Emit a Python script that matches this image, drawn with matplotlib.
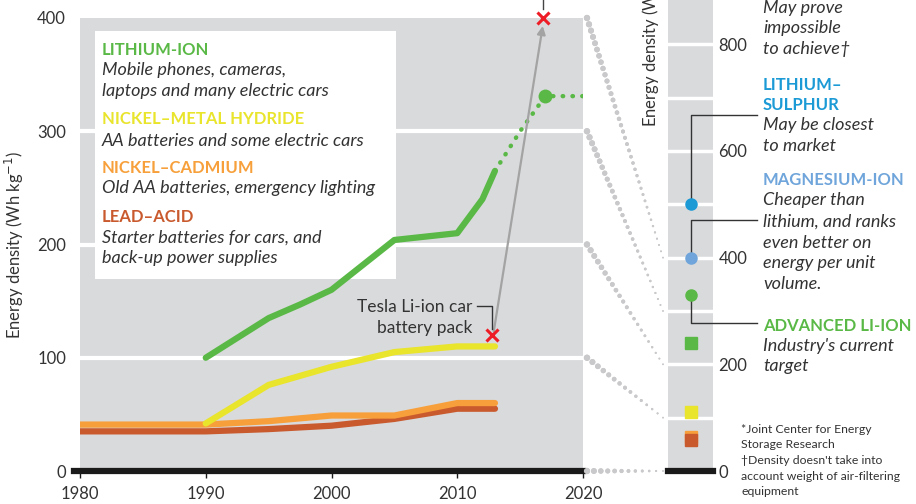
import matplotlib.pyplot as plt
import numpy as np
from matplotlib.patches import Rectangle

plt.rcParams['font.family'] = ['Lato', 'DejaVu Sans']

# ---- data ----
li_years = [1990, 1995, 1997.5, 2000, 2005, 2010, 2012, 2013]
li_vals = [100, 135, 147, 160, 204, 210, 240, 265]
li_proj_years = [2013, 2015, 2017, 2020]
li_proj_vals = [265, 300, 331, 331]

nimh_years = [1990, 1995, 2000, 2005, 2010, 2013]
nimh_vals = [42, 76, 92, 105, 110, 110]

nicd_years = [1980, 1990, 1995, 2000, 2005, 2010, 2013]
nicd_vals = [41, 41, 44, 49, 49, 60, 60]

lead_years = [1980, 1990, 1995, 2000, 2005, 2010, 2013]
lead_vals = [35, 35, 37, 40, 46, 55, 55]

tesla_year, tesla_val = 2012.8, 120
air_year, air_val = 2016.8, 400

# right panel: future chemistries (circles) and current values (squares)
future_vals = [500, 400, 330]          # Li-S, Mg-ion, advanced Li-ion
current_vals = [240, 110, 63, 58]      # Li-ion, NiMH, NiCd, lead-acid

connector_vals = [0, 100, 200, 300, 400]

GREEN = '#5ab946'
YELLOW = '#e9e42c'
ORANGE = '#f7a03b'
LEAD = '#c95a2e'
BLUE = '#1b9ad6'
LBLUE = '#6fa5da'
RED = '#ee1c25'
BG = '#d9dadc'
TXT = '#333333'

W, H = 916, 504
fig = plt.figure(figsize=(W / 100, H / 100), dpi=100)


def fx(x):
    return x / W


def fy(y):
    return 1 - y / H


# ---- left chart ----
ax = fig.add_axes([fx(80), fy(471), 503 / W, 453 / H])
ax.set_facecolor(BG)
ax.set_xlim(1980, 2020)
ax.set_ylim(0, 400)
for s in ax.spines.values():
    s.set_visible(False)
for v in [100, 200, 300]:
    ax.axhline(v, color='white', lw=3, zorder=1)

# white legend box
ax.add_patch(Rectangle((0.030, 0.424), 0.598, 0.547, transform=ax.transAxes,
                       facecolor='white', edgecolor='none', zorder=2))

ax.plot(lead_years, lead_vals, color=LEAD, lw=4.5, solid_capstyle='round', zorder=3)
ax.plot(nicd_years, nicd_vals, color=ORANGE, lw=4.5, solid_capstyle='round', zorder=3)
ax.plot(nimh_years, nimh_vals, color=YELLOW, lw=4.5, solid_capstyle='round', zorder=3)
ax.plot(li_years, li_vals, color=GREEN, lw=4.5, solid_capstyle='round', zorder=3)
ax.plot(li_proj_years, li_proj_vals, color=GREEN, lw=3.2, ls=(0, (0.1, 2.1)),
        dash_capstyle='round', zorder=3)
ax.plot(li_proj_years[2], li_proj_vals[2], 'o', color=GREEN, ms=9, zorder=4)

ax.axhline(0, xmin=-0.012, xmax=1, color='#1a1a1a', lw=4.5, clip_on=False, zorder=5)

ax.set_xticks([1980, 1990, 2000, 2010, 2020])
ax.set_yticks([0, 100, 200, 300, 400])
ax.tick_params(axis='x', length=5, width=1, color='#1a1a1a', pad=6,
               labelsize=12, labelcolor=TXT)
ax.tick_params(axis='y', length=0, pad=10, labelsize=12, labelcolor=TXT)
ax.set_ylabel('Energy density (Wh kg$^{-1}$)', fontsize=12, color=TXT, labelpad=8)

# Tesla annotation
ax.annotate('', xy=(air_year, air_val - 7), xytext=(tesla_year + 0.1, tesla_val + 3),
            arrowprops=dict(arrowstyle='-|>', color='#a3a3a3', lw=1.6,
                            mutation_scale=12, shrinkA=0, shrinkB=0), zorder=4)
ax.plot(tesla_year, tesla_val, 'x', color=RED, ms=8, mew=2.2, zorder=6)
ax.plot(air_year, air_val, 'x', color=RED, ms=8, mew=2.2, zorder=6, clip_on=False)
ax.plot([air_year, air_year], [408, 420], color='#444444', lw=1, clip_on=False)
ax.plot([tesla_year - 1.2, tesla_year, tesla_year], [146, 146, 125],
        color='#333333', lw=1, zorder=5)
ax.text(tesla_year - 1.6, 145, 'Tesla Li-ion car', ha='right', va='center',
        fontsize=12.5, color=TXT, zorder=5)
ax.text(tesla_year - 1.6, 126, 'battery pack', ha='right', va='center',
        fontsize=12.5, color=TXT, zorder=5)


def put(x, y, s, color, kind):
    if kind == 'bold':
        fig.text(fx(x), fy(y), s, color=color, fontsize=12, fontweight='bold',
                 va='baseline', ha='left', zorder=10)
    else:
        fig.text(fx(x), fy(y), s, color=color or TXT, fontsize=13, style='italic',
                 va='baseline', ha='left', zorder=10)


legend_lines = [
    ('LITHIUM-ION', 55, GREEN, 'bold'),
    ('Mobile phones, cameras,', 75, None, 'it'),
    ('laptops and many electric cars', 96, None, 'it'),
    ('NICKEL–METAL HYDRIDE', 124, YELLOW, 'bold'),
    ('AA batteries and some electric cars', 146, None, 'it'),
    ('NICKEL–CADMIUM', 173, ORANGE, 'bold'),
    ('Old AA batteries, emergency lighting', 193, None, 'it'),
    ('LEAD–ACID', 222, LEAD, 'bold'),
    ('Starter batteries for cars, and', 243, None, 'it'),
    ('back-up power supplies', 263, None, 'it'),
]
for s, y, c, k in legend_lines:
    put(102, y, s, c, k)

# ---- right panel ----
ax2 = fig.add_axes([fx(668), fy(471), 45 / W, 471 / H])
ax2.set_facecolor(BG)
ax2.set_xlim(0, 1)
ax2.set_ylim(0, 471 / 0.5335)
for s in ax2.spines.values():
    s.set_visible(False)
for v in range(100, 900, 100):
    ax2.axhline(v, color='white', lw=2.5, zorder=1)
ax2.axhline(0, color='#1a1a1a', lw=4.5, zorder=5, clip_on=False)
ax2.set_xticks([])
ax2.yaxis.tick_right()
ax2.set_yticks([0, 200, 400, 600, 800])
ax2.tick_params(axis='y', length=0, pad=4, labelsize=12, labelcolor=TXT)
fig.text(fx(650), fy(127), 'Energy density (Wh kg$^{-1}$)', rotation=90,
         ha='center', va='bottom', fontsize=12, color=TXT)

sq_colors = [GREEN, YELLOW, ORANGE, LEAD]
for v, c in zip(current_vals, sq_colors):
    ax2.plot(0.5, v, 's', color=c, ms=8.5, zorder=4)

fut_colors = [BLUE, LBLUE, GREEN]
for v, c in zip(future_vals, fut_colors):
    ax2.plot(0.5, v, 'o', color=c, ms=8, zorder=4)

# leader lines from circles to labels
leader_elbow = [667, 470, 277]
for v, e in zip(future_vals, leader_elbow):
    ax2.plot([0.5, 0.5, 1.98], [v, e, e], color='#333333', lw=1, zorder=3,
             clip_on=False)

right_lines = [
    ('May prove', 13, None, 'it'),
    ('impossible', 33, None, 'it'),
    ('to achieve†', 54, None, 'it'),
    ('LITHIUM–', 90, BLUE, 'bold'),
    ('SULPHUR', 110, BLUE, 'bold'),
    ('May be closest', 130, None, 'it'),
    ('to market', 151, None, 'it'),
    ('MAGNESIUM-ION', 185, LBLUE, 'bold'),
    ('Cheaper than', 205, None, 'it'),
    ('lithium, and ranks', 227, None, 'it'),
    ('even better on', 248, None, 'it'),
    ('energy per unit', 268, None, 'it'),
    ('volume.', 289, None, 'it'),
    ('ADVANCED LI-ION', 331, GREEN, 'bold'),
    ("Industry's current", 351, None, 'it'),
    ('target', 371, None, 'it'),
]
for s, y, c, k in right_lines:
    put(763, y, s, c, k)

notes = ['*Joint Center for Energy', 'Storage Research',
         '†Density doesn\'t take into', 'account weight of air-filtering',
         'equipment']
for i, s in enumerate(notes):
    fig.text(fx(741), fy(433 + i * 15.5), s, fontsize=8.8, color=TXT,
             va='baseline', ha='left')

# ---- dotted connectors between the two panels (tapering dots) ----
fig.canvas.draw()
inv = fig.transFigure.inverted()
for v in connector_vals:
    p0 = ax.transData.transform((2020, v)) + np.array([4, 0])
    p1 = ax2.transData.transform((0, v)) - np.array([5, 0])
    n = int(np.hypot(*(p1 - p0)) / 6.5) + 1
    t = np.linspace(0, 1, n)
    pts = inv.transform(p0[None, :] + t[:, None] * (p1 - p0)[None, :])
    sizes = np.linspace(4.5, 1.2, n) ** 2
    fig.add_artist(plt.scatter(pts[:, 0], pts[:, 1], s=sizes, color='#c9c9cb',
                               lw=0, transform=fig.transFigure, clip_on=False,
                               zorder=0))

fig.savefig('out.png', dpi=100)
